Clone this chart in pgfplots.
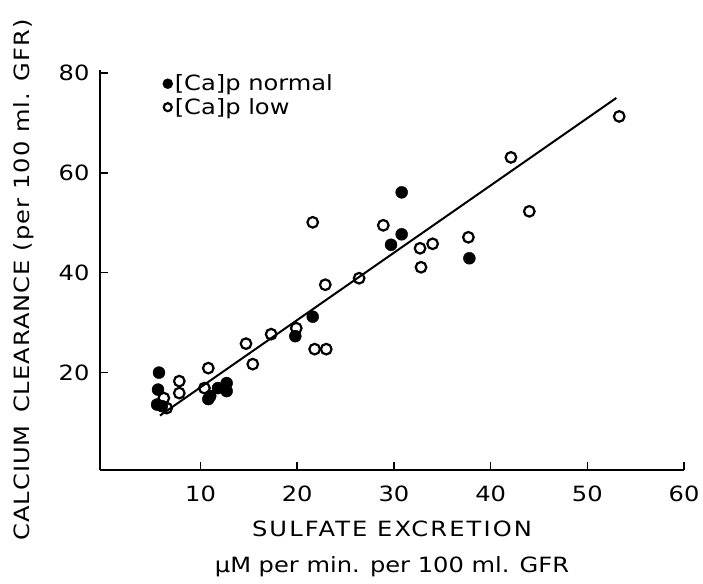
\documentclass[border=0pt]{standalone}
\usepackage{pgfplots}
\pgfplotsset{compat=1.18}
\usepackage{fontspec}
\setmainfont{DejaVu Sans}[FakeStretch=1.15]
\newfontfamily\spaced{DejaVu Sans}[FakeStretch=1.15, LetterSpace=10]
\newfontfamily\yspaced{DejaVu Sans}[FakeStretch=1.15, LetterSpace=5]
\begin{document}
\begin{tikzpicture}
\begin{axis}[
  scale only axis,
  width=584pt, height=400pt,
  xmin=-0.4, xmax=60, ymin=0.5, ymax=80.6,
  axis x line=bottom, axis y line=left,
  axis line style={line width=1.7pt, -},
  tick align=inside,
  major tick length=8pt,
  tick style={line width=1.5pt, black},
  xtick={10,20,30,40,50,60},
  ytick={20,40,60,80},
  /pgf/number format/assume math mode=true,
  ticklabel style={font=\fontsize{21}{21}\selectfont},
  xticklabel style={yshift=-12pt},
  yticklabel style={xshift=-7pt},
  xlabel={{\spaced SULFATE EXCRETION}\\µM per min. per 100 ml. GFR},
  xlabel style={font=\fontsize{21}{36}\selectfont, align=center,
    at={(axis description cs:0.5,-0.197)}, anchor=center},
  ylabel={CALCIUM \,CLEARANCE (per 100 ml. GFR)},
  ylabel style={font=\fontsize{21}{21}\selectfont\yspaced,
    at={(axis description cs:-0.130,0.475)}, anchor=center, rotate=0},
  legend style={draw=none, fill=none, at={(0.102,0.998)}, anchor=north west,
    font=\fontsize{21}{21}\selectfont, row sep=2pt,
    /tikz/every even column/.append style={column sep=2pt}},
  legend cell align=left,
]
\addplot[only marks, mark=*, mark size=6pt, mark options={fill=black, draw=black},
  legend image post style={mark size=5pt}] coordinates {
(5.7,20.0) (5.6,16.6) (5.5,13.6) (6.0,13.3)
(11.0,15.3) (11.8,16.9) (12.7,17.9) (12.7,16.3) (10.8,14.7)
(19.8,27.3) (21.6,31.2)
(29.7,45.6) (30.8,47.7) (30.8,56.1) (37.8,42.9)
};
\addlegendentry{[Ca]p normal}
\addplot[only marks, mark=o, mark size=5.3pt, mark options={draw=black, line width=2.2pt, fill=white},
  legend image post style={mark size=4pt, line width=1.7pt}] coordinates {
(6.2,14.9) (6.5,12.9) (7.8,18.3) (7.8,15.9)
(10.8,20.9) (10.4,16.9)
(14.7,25.8) (15.4,21.7) (17.3,27.7) (19.9,28.9)
(21.6,50.1) (21.8,24.7) (23.0,24.7) (22.9,37.6) (26.4,38.9)
(28.9,49.5) (32.7,44.9) (32.8,41.1) (34.0,45.8) (37.7,47.1)
(42.1,63.1) (44.0,52.3) (53.3,71.3)
};
\addlegendentry{[Ca]p low}
\addplot[black, line width=2pt, forget plot] coordinates {(5.8,11.4) (53,75)};
\end{axis}
\pgfresetboundingbox
\path[use as bounding box] ([xshift=-100pt,yshift=-113pt]current axis.south west) rectangle ([xshift=19pt,yshift=70pt]current axis.north east);
\end{tikzpicture}
\end{document}
